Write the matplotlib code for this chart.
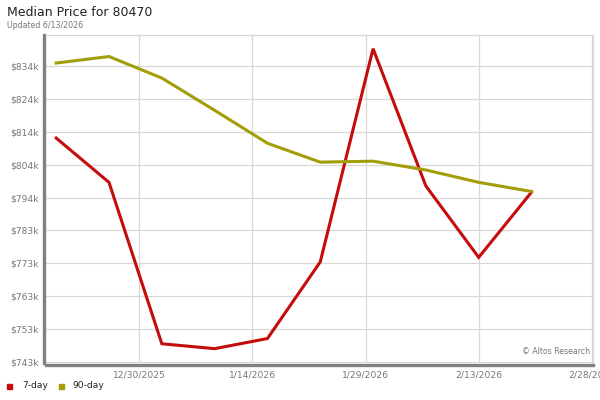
import numpy as np
import pandas as pd
import matplotlib
matplotlib.use('Agg')
import matplotlib.pyplot as plt

plt.rcParams['font.family'] = 'DejaVu Sans'

# weekly points
dates = pd.to_datetime(['2025-12-19', '2025-12-26', '2026-01-02', '2026-01-09', '2026-01-16',
                        '2026-01-23', '2026-01-30', '2026-02-06', '2026-02-13', '2026-02-20'])
price_7day = [811.8, 798.2, 748.7, 747.2, 750.3, 773.8, 839.2, 797.1, 775.2, 795.2]
price_90day = [834.8, 836.8, 830.2, 820.3, 810.2, 804.4, 804.7, 802.0, 798.2, 795.4]

ytick_labels = ['$743k', '$753k', '$763k', '$773k', '$783k', '$794k',
                '$804k', '$814k', '$824k', '$834k']
xtick_dates = pd.to_datetime(['2025-12-30', '2026-01-14', '2026-01-29', '2026-02-13', '2026-02-28'])
xtick_labels = ['12/30/2025', '1/14/2026', '1/29/2026', '2/13/2026', '2/28/2026']

red = '#c40c0c'
olive = '#a39d08'
grid_c = '#d8d8d8'
txt_c = '#777777'

fig = plt.figure(figsize=(6, 4), dpi=100)
ax = fig.add_axes([46/600, 1-363/400, (593-46)/600, (363-35)/400])

ax.plot(dates, price_7day, color=red, lw=2.2, solid_joinstyle='miter', zorder=3)
ax.plot(dates, price_90day, color=olive, lw=2.2, solid_joinstyle='miter', zorder=3)

ytick_vals = 743 + np.arange(len(ytick_labels)) * 10.11
ax.set_yticks(ytick_vals)
ax.set_yticklabels(ytick_labels)
ax.set_ylim(742.8, 843.4)

ax.set_xticks(xtick_dates)
ax.set_xticklabels(xtick_labels)
ax.set_xlim(pd.Timestamp('2025-12-30') - pd.Timedelta(days=12.35),
            pd.Timestamp('2026-02-28') + pd.Timedelta(days=0.15))

ax.grid(True, color=grid_c, lw=0.9, zorder=0)
ax.tick_params(length=0, colors=txt_c, labelsize=6.6, pad=4)

for s in ['top', 'right']:
    ax.spines[s].set_color(grid_c)
    ax.spines[s].set_linewidth(0.9)
for s in ['left', 'bottom']:
    ax.spines[s].set_color('#808080')
    ax.spines[s].set_linewidth(2.4)
    ax.spines[s].set_position(('outward', 1.2))

ax.text(0.995, 0.02, '\u00a9 Altos Research', transform=ax.transAxes, ha='right', va='bottom',
        fontsize=5.6, color=txt_c)

fig.text(7/600, 1-13/400, 'Median Price for 80470', fontsize=9, color='#222222', va='center')
fig.text(7/600, 1-25.5/400, 'Updated 6/13/2026', fontsize=5.7, color=txt_c, va='center')

# legend
fig.patches.append(plt.Rectangle((7/600, 1-389/400), 5/600, 5/400, color=red, transform=fig.transFigure))
fig.text(22/600, 1-386/400, '7-day', fontsize=6.6, color='#222222', va='center')
fig.patches.append(plt.Rectangle((59/600, 1-389/400), 5/600, 5/400, color=olive, transform=fig.transFigure))
fig.text(72/600, 1-386/400, '90-day', fontsize=6.6, color='#222222', va='center')

fig.savefig('out.png', dpi=100)
